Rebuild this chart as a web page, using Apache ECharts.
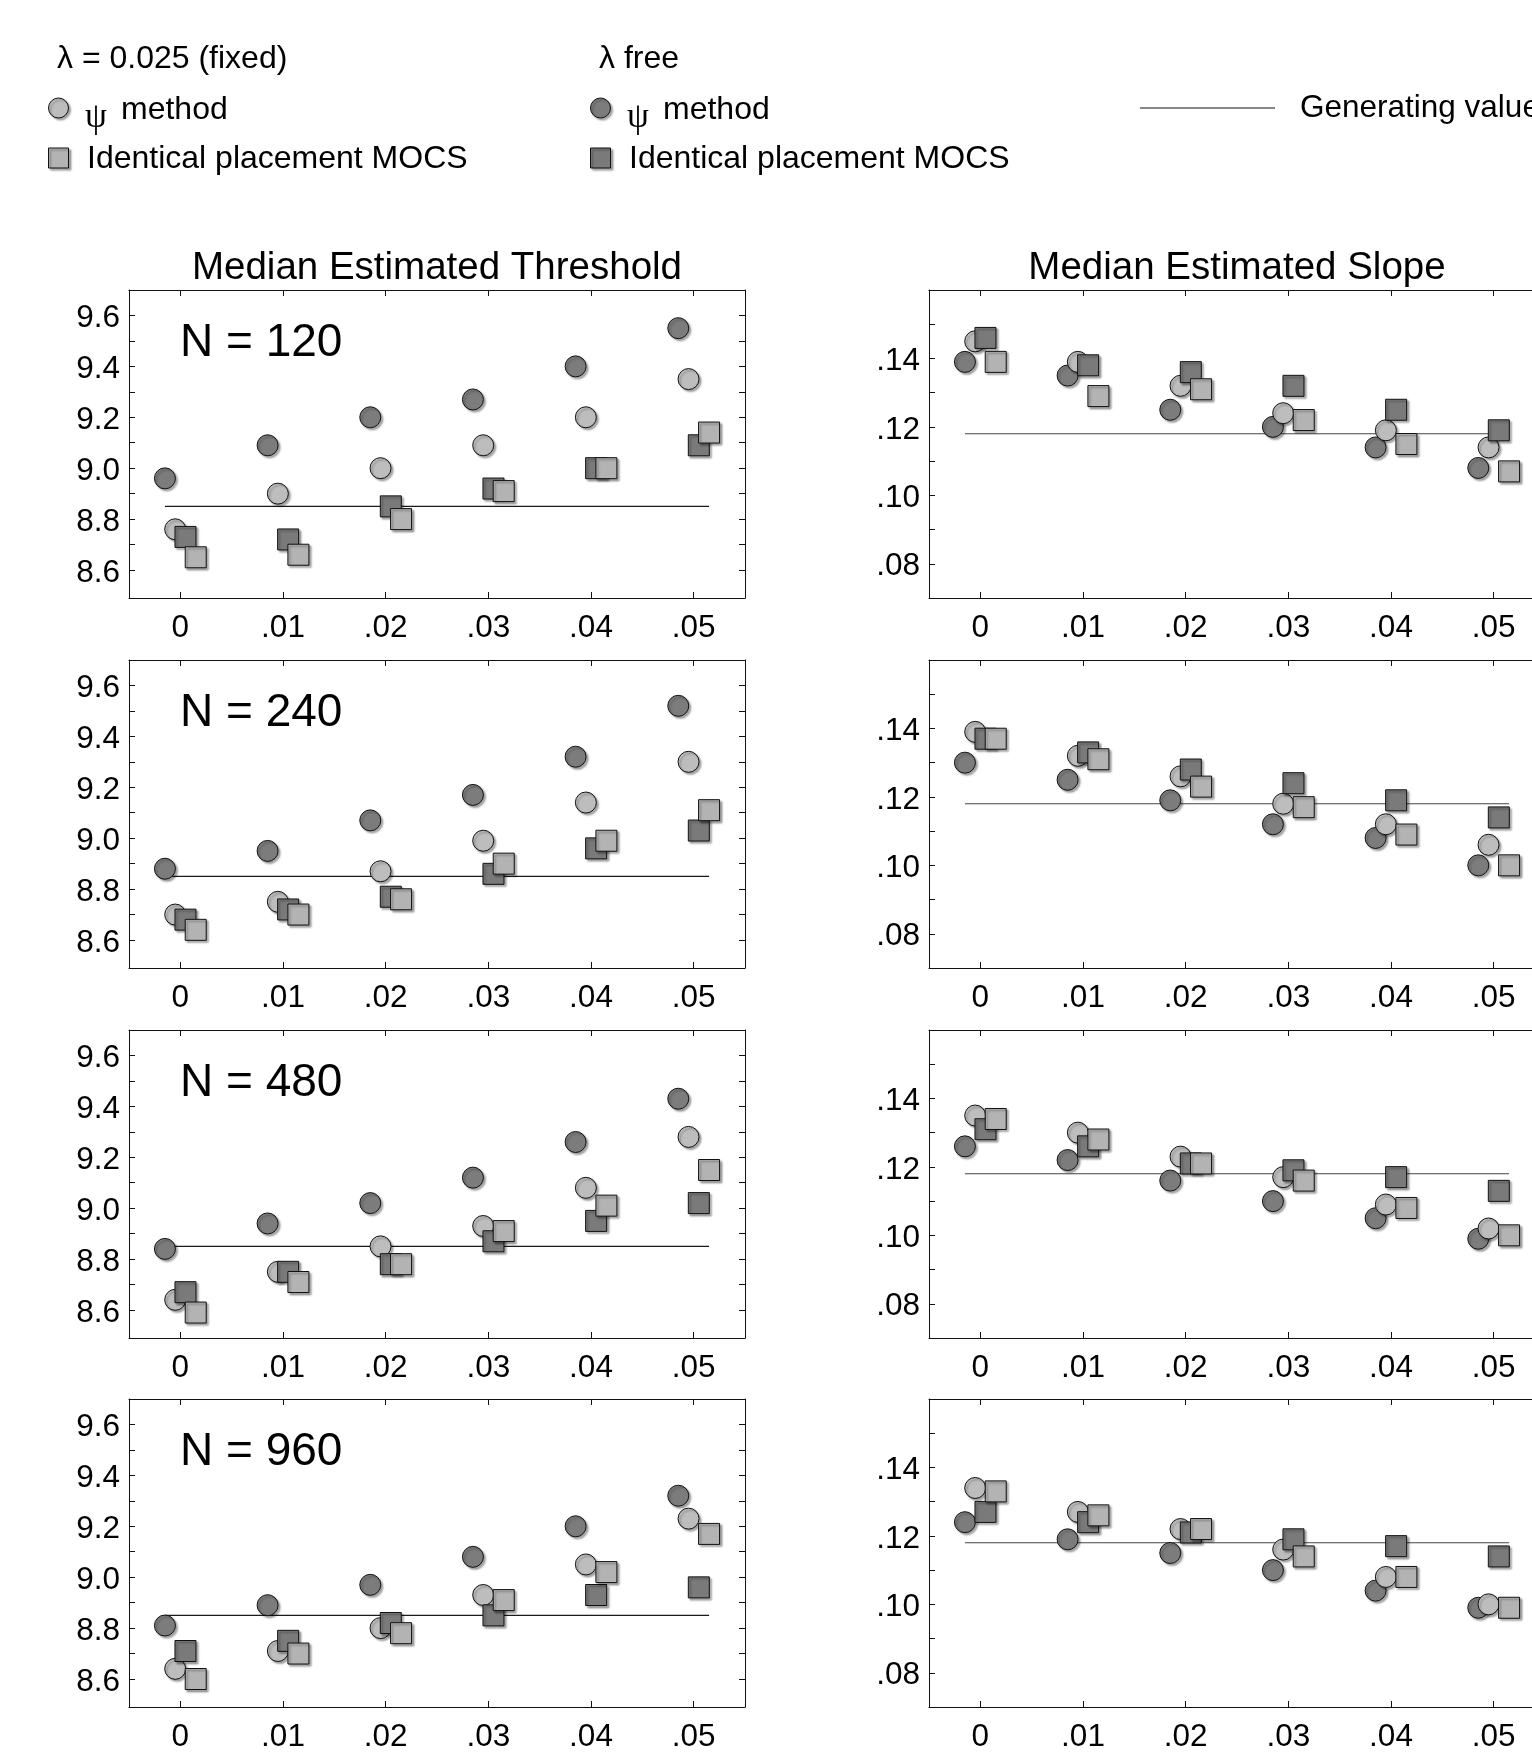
<!DOCTYPE html>
<html>
<head>
<meta charset="utf-8">
<title>Median estimated threshold and slope</title>
<script src="https://cdn.jsdelivr.net/npm/echarts@6/dist/echarts.min.js"></script>
<style>
  html, body { margin: 0; padding: 0; background: #fff; overflow: hidden; }
  /* the right column's frame runs past the page edge, as in the original figure */
  #chart { width: 1560px; height: 1759px; }
</style>
</head>
<body>
<div id="chart"></div>
<script>
// generating lapse rate (x axis) and sample sizes (rows)
const lapseRates = [0, 0.01, 0.02, 0.03, 0.04, 0.05];
const sampleSizes = [120, 240, 480, 960];
const generatingThreshold = 8.85;
const generatingSlope = 0.118;

// tick marks / labels
const thresholdTicks = [8.6, 8.7, 8.8, 8.9, 9.0, 9.1, 9.2, 9.3, 9.4, 9.5, 9.6];
const thresholdLabels = [8.6, 8.8, 9.0, 9.2, 9.4, 9.6];
const slopeTicks = [0.08, 0.09, 0.10, 0.11, 0.12, 0.13, 0.14, 0.15];
const slopeLabels = [0.08, 0.10, 0.12, 0.14];

// median estimated threshold, one row per N
const thrFreePsi = [
  [8.96, 9.09, 9.20, 9.27, 9.40, 9.55],
  [8.88, 8.95, 9.07, 9.17, 9.32, 9.52],
  [8.84, 8.94, 9.02, 9.12, 9.26, 9.43],
  [8.81, 8.89, 8.97, 9.08, 9.20, 9.32]
];
const thrFixedPsi = [
  [8.76, 8.90, 9.00, 9.09, 9.20, 9.35],
  [8.70, 8.75, 8.87, 8.99, 9.14, 9.30],
  [8.64, 8.75, 8.85, 8.93, 9.08, 9.28],
  [8.64, 8.71, 8.80, 8.93, 9.05, 9.23]
];
const thrFreeMocs = [
  [8.73, 8.72, 8.85, 8.92, 9.00, 9.09],
  [8.68, 8.72, 8.77, 8.86, 8.96, 9.03],
  [8.67, 8.75, 8.78, 8.87, 8.95, 9.02],
  [8.71, 8.75, 8.82, 8.85, 8.93, 8.96]
];
const thrFixedMocs = [
  [8.65, 8.66, 8.80, 8.91, 9.00, 9.14],
  [8.64, 8.70, 8.76, 8.90, 8.99, 9.11],
  [8.59, 8.71, 8.78, 8.91, 9.01, 9.15],
  [8.60, 8.70, 8.78, 8.91, 9.02, 9.17]
];

// median estimated slope, one row per N
const slpFreePsi = [
  [0.139, 0.135, 0.125, 0.120, 0.114, 0.108],
  [0.130, 0.125, 0.119, 0.112, 0.108, 0.100],
  [0.126, 0.122, 0.116, 0.110, 0.105, 0.099],
  [0.124, 0.119, 0.115, 0.110, 0.104, 0.099]
];
const slpFixedPsi = [
  [0.145, 0.139, 0.132, 0.124, 0.119, 0.114],
  [0.139, 0.132, 0.126, 0.118, 0.112, 0.106],
  [0.135, 0.130, 0.123, 0.117, 0.109, 0.102],
  [0.134, 0.127, 0.122, 0.116, 0.108, 0.100]
];
const slpFreeMocs = [
  [0.146, 0.138, 0.136, 0.132, 0.125, 0.119],
  [0.137, 0.133, 0.128, 0.124, 0.119, 0.114],
  [0.131, 0.126, 0.121, 0.119, 0.117, 0.113],
  [0.127, 0.124, 0.121, 0.119, 0.117, 0.114]
];
const slpFixedMocs = [
  [0.139, 0.129, 0.131, 0.122, 0.115, 0.107],
  [0.137, 0.131, 0.123, 0.117, 0.109, 0.100],
  [0.134, 0.128, 0.121, 0.116, 0.108, 0.100],
  [0.133, 0.126, 0.122, 0.114, 0.108, 0.099]
];

// ---- layout / style ----
const FONT = "'Liberation Sans', Arial, sans-serif";
const rowTops = [290, 660, 1030, 1399];
const colLefts = [129, 929];
const gridW = 616;
const gridH = 308;
const jitterStep = 0.0005; // markers are spread around each lapse rate

const LIGHT_C = '#bdbdbd', LIGHT_S = '#b3b3b3';
const DARK_C = '#7c7c7c', DARK_S = '#7a7a7a';

const shadow = {
  borderColor: '#111',
  borderWidth: 1,
  shadowColor: 'rgba(0,0,0,0.35)',
  shadowBlur: 2,
  shadowOffsetX: 2,
  shadowOffsetY: 2
};

const groups = [
  { name: 'λ free · ψ method', symbol: 'circle', color: DARK_C, jit: -3, thr: thrFreePsi, slp: slpFreePsi },
  { name: 'λ fixed · ψ method', symbol: 'circle', color: LIGHT_C, jit: -1, thr: thrFixedPsi, slp: slpFixedPsi },
  { name: 'λ free · MOCS', symbol: 'rect', color: DARK_S, jit: 1, thr: thrFreeMocs, slp: slpFreeMocs },
  { name: 'λ fixed · MOCS', symbol: 'rect', color: LIGHT_S, jit: 3, thr: thrFixedMocs, slp: slpFixedMocs }
];

const lineAxis = { show: true, onZero: false, lineStyle: { color: '#111', width: 1 } };
const tickStyle = { color: '#111', width: 1 };

const grid = [], xAxis = [], yAxis = [], series = [], graphic = [];

function fmtLapse(v) {
  return v === 0 ? '0' : v.toFixed(2).replace(/^0/, '');
}

rowTops.forEach((top, r) => {
  colLefts.forEach((left, c) => {
    const g = grid.length;
    grid.push({ left: left, top: top, width: gridW, height: gridH });

    const xBase = {
      type: 'value', gridIndex: g, min: -0.005, max: 0.055,
      axisLine: lineAxis, splitLine: { show: false },
      axisTick: { inside: true, length: 6, lineStyle: tickStyle, customValues: lapseRates }
    };
    xAxis.push(Object.assign({}, xBase, {
      position: 'bottom',
      axisLabel: {
        customValues: lapseRates, formatter: fmtLapse, margin: 14,
        fontSize: 31.5, color: '#000', fontFamily: FONT
      }
    }));
    xAxis.push(Object.assign({}, xBase, { position: 'top', axisLabel: { show: false } }));

    const isThr = c === 0;
    const ticks = isThr ? thresholdTicks : slopeTicks;
    const yBase = {
      type: 'value', gridIndex: g,
      min: isThr ? 8.49 : 0.07, max: isThr ? 9.70 : 0.16,
      axisLine: lineAxis, splitLine: { show: false },
      axisTick: { inside: true, length: 6, lineStyle: tickStyle, customValues: ticks }
    };
    yAxis.push(Object.assign({}, yBase, {
      position: 'left',
      axisLabel: {
        customValues: isThr ? thresholdLabels : slopeLabels,
        formatter: v => '{t|' + (isThr ? v.toFixed(1) : v.toFixed(2).replace(/^0/, '')) + '}',
        margin: 9, color: '#000',
        rich: { t: { fontSize: 31.5, fontFamily: FONT, color: '#000', padding: [6, 0, 0, 0] } }
      }
    }));
    yAxis.push(Object.assign({}, yBase, { position: 'right', axisLabel: { show: false } }));

    // generating value line, spanning the spread of markers
    const gen = isThr ? generatingThreshold : generatingSlope;
    series.push({
      type: 'line', xAxisIndex: 2 * g, yAxisIndex: 2 * g,
      data: [[lapseRates[0] - 3 * jitterStep, gen], [lapseRates[lapseRates.length - 1] + 3 * jitterStep, gen]],
      symbol: 'none', silent: true, z: 1,
      lineStyle: { color: isThr ? '#1a1a1a' : '#444', width: 1.2 }
    });

    groups.forEach(grp => {
      const vals = (isThr ? grp.thr : grp.slp)[r];
      series.push({
        name: grp.name, type: 'scatter', xAxisIndex: 2 * g, yAxisIndex: 2 * g,
        symbol: grp.symbol, symbolSize: 21, z: 2,
        itemStyle: Object.assign({ color: grp.color, opacity: 1 }, shadow),
        emphasis: { disabled: true },
        data: lapseRates.map((x, i) => [x + grp.jit * jitterStep, vals[i]])
      });
    });

    if (c === 0) {
      graphic.push({
        type: 'text', left: 180, top: top + 30,
        style: { text: 'N = ' + sampleSizes[r], font: '46px ' + FONT, fill: '#000' }
      });
    }
  });
});

// column titles
[['Median Estimated Threshold', colLefts[0]], ['Median Estimated Slope', colLefts[1]]].forEach(([t, left]) => {
  graphic.push({
    type: 'text', x: left + gridW / 2, y: 268,
    style: { text: t, font: '38.5px ' + FONT, fill: '#000', align: 'center', verticalAlign: 'middle',
      textAlign: 'center', textVerticalAlign: 'middle' }
  });
});

// legend
function legendText(text, x, y, size, family) {
  graphic.push({
    type: 'text', x: x, y: y,
    style: { text: text, font: (size || 32) + 'px ' + (family || FONT), fill: '#000',
      align: 'left', verticalAlign: 'middle', textAlign: 'left', textVerticalAlign: 'middle' }
  });
}
const legendShadow = { stroke: '#111', lineWidth: 1, shadowColor: 'rgba(0,0,0,0.35)', shadowBlur: 2, shadowOffsetX: 2, shadowOffsetY: 2 };
[[0, LIGHT_C, LIGHT_S, 'λ = 0.025 (fixed)'], [542, DARK_C, DARK_S, 'λ free']].forEach(([dx, cc, sc, head]) => {
  legendText(head, 57 + dx, 59);
  graphic.push({ type: 'circle', shape: { cx: 58.5 + dx, cy: 108, r: 10 }, style: Object.assign({ fill: cc }, legendShadow) });
  legendText('ψ', 85 + dx, 118, 35, "'Liberation Serif', serif");
  legendText('method', 121 + dx, 110);
  graphic.push({ type: 'rect', shape: { x: 48.5 + dx, y: 148, width: 20, height: 20 }, style: Object.assign({ fill: sc }, legendShadow) });
  legendText('Identical placement MOCS', 87 + dx, 159);
});
graphic.push({ type: 'line', shape: { x1: 1140, y1: 108, x2: 1275, y2: 108 }, style: { stroke: '#111', lineWidth: 1.2 } });
legendText('Generating value', 1300, 108, 31.5);

const chart = echarts.init(document.getElementById('chart'));
chart.setOption({
  backgroundColor: '#fff',
  animation: false,
  grid: grid,
  xAxis: xAxis,
  yAxis: yAxis,
  series: series,
  graphic: graphic
});
</script>
</body>
</html>
